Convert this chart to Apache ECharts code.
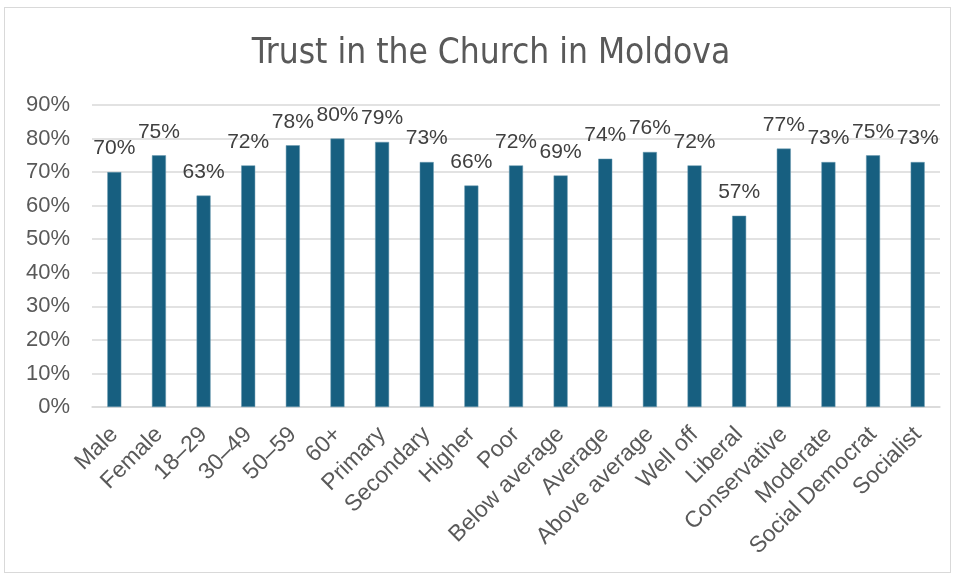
<!DOCTYPE html>
<html>
<head>
<meta charset="utf-8">
<script src="https://cdn.jsdelivr.net/npm/echarts@6/dist/echarts.min.js"></script>
<style>
  html, body { margin: 0; padding: 0; background: #fff; }
  #frame { position: absolute; left: 4px; top: 7px; width: 947px; height: 566px; border: 1px solid #d9d9d9; box-sizing: border-box; }
  #chart { position: absolute; left: 0; top: 0; width: 957px; height: 575px; }
</style>
</head>
<body>
<div id="frame"></div>
<div id="chart"></div>
<script>
// Groups surveyed
const categories = ['Male', 'Female', '18–29', '30–49', '50–59', '60+', 'Primary', 'Secondary', 'Higher',
  'Poor', 'Below average', 'Average', 'Above average', 'Well off', 'Liberal', 'Conservative',
  'Moderate', 'Social Democrat', 'Socialist'];
// Share who trust the Church, percent
const trustValues = [70, 75, 63, 72, 78, 80, 79, 73, 66, 72, 69, 74, 76, 72, 57, 77, 73, 75, 73];
const chartTitle = 'Trust in the Church in Moldova';

const chart = echarts.init(document.getElementById('chart'));
chart.setOption({
  animation: false,
  title: {
    text: chartTitle,
    left: 486,
    textAlign: 'center',
    top: 31,
    textStyle: { fontFamily: 'DejaVu Sans Condensed, Roboto', fontSize: 35, fontWeight: 'normal', color: '#595959' }
  },
  grid: { left: 92, right: 17, top: 105, bottom: 168, containLabel: false },
  xAxis: {
    type: 'category',
    data: categories,
    axisLine: { lineStyle: { color: '#d9d9d9', width: 1.5 } },
    axisTick: { show: false },
    axisLabel: {
      rotate: 45, interval: 0, margin: 24,
      fontFamily: 'Liberation Sans, Arial', fontSize: 23, color: '#595959'
    }
  },
  yAxis: {
    type: 'value',
    min: 0, max: 90, interval: 10,
    axisLine: { show: false },
    axisTick: { show: false },
    splitLine: { lineStyle: { color: '#d9d9d9', width: 1.5 } },
    axisLabel: {
      formatter: '{value}%', margin: 22,
      fontFamily: 'Liberation Sans, Arial', fontSize: 22, color: '#595959'
    }
  },
  series: [{
    type: 'bar',
    data: trustValues,
    barWidth: 14,
    itemStyle: { color: '#175F80', borderColor: '#6a9ab0', borderWidth: 0.5 },
    label: {
      show: true, position: 'top', distance: 13,
      formatter: '{c}%',
      fontFamily: 'Liberation Sans, Arial', fontSize: 21, color: '#404040'
    }
  }]
});
</script>
</body>
</html>
